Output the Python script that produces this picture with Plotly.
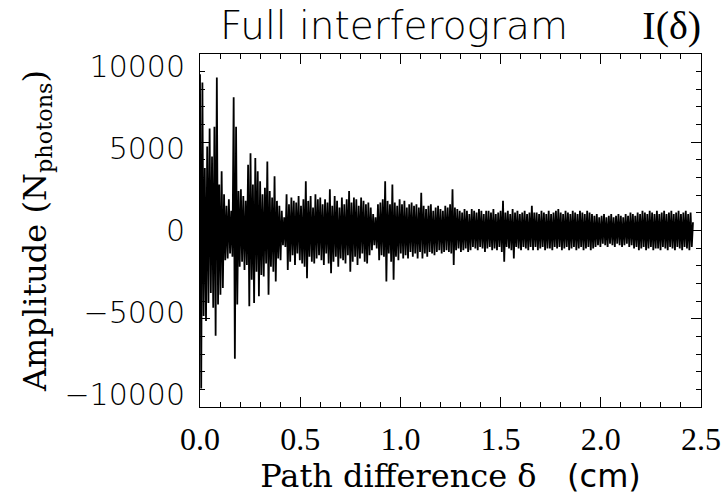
import plotly.graph_objects as go

# Interferogram samples (amplitude in hundreds of photons), one every 0.006 cm of path difference
delta_step_cm = 0.006
amp_hundreds = [
    95, -96, 90, -52, 38, -55, 51, -44, 62, -38,
    45, -47, 63, -64, 93, -45, 28, -39, 36, -35,
    22, -18, 15, -17, 19, -14, 12, -16, 81, -78,
    63, -45, 24, -22, 25, -19, 21, -24, 18, -21,
    40, -46, 47, -30, 28, -44, 44, -25, 36, -40,
    30, -27, 22, -28, 26, -20, 42, -39, 24, -22,
    20, -25, 33, -31, 18, -17, 15, -18, 12, -9,
    8, -10, 22, -24, 16, -19, 20, -15, 18, -21,
    17, -14, 21, -18, 15, -20, 19, -22, 30, -29,
    18, -16, 21, -19, 14, -20, 22, -17, 19, -15,
    20, -18, 16, -21, 19, -14, 17, -20, 25, -26,
    15, -19, 21, -16, 18, -22, 14, -17, 20, -18,
    16, -20, 19, -15, 24, -25, 17, -19, 20, -16,
    19, -21, 15, -17, 20, -14, 18, -19, 16, -20,
    17, -15, 14, -12, 10, -9, 8, -11, 16, -18,
    17, -15, 19, -16, 30, -31, 18, -14, 16, -19,
    28, -30, 17, -16, 15, -18, 19, -14, 16, -17,
    18, -15, 14, -17, 16, -13, 17, -16, 15, -14,
    16, -17, 14, -13, 23, -17, 15, -14, 13, -16,
    15, -13, 16, -14, 12, -15, 14, -13, 15, -12,
    13, -14, 12, -13, 15, -12, 14, -13, 16, -14,
    25, -21, 14, -12, 13, -11, 12, -13, 11, -12,
    13, -11, 12, -13, 10, -12, 13, -10, 12, -11,
    11, -12, 13, -10, 12, -11, 10, -13, 12, -11,
    12, -10, 11, -12, 13, -11, 10, -12, 11, -10,
    12, -13, 18, -19, 11, -10, 12, -11, 10, -12,
    13, -17, 11, -10, 12, -11, 10, -12, 11, -10,
    12, -11, 10, -12, 11, -10, 15, -12, 11, -10,
    11, -12, 10, -11, 12, -10, 11, -12, 10, -11,
    12, -11, 10, -12, 11, -10, 12, -11, 13, -10,
    11, -12, 10, -11, 12, -10, 11, -12, 10, -11,
    12, -10, 11, -12, 10, -11, 12, -10, 11, -12,
    10, -11, 12, -10, 11, -12, 10, -11, 9, -10,
    10, -9, 8, -10, 9, -8, 10, -9, 8, -10,
    9, -8, 10, -9, 8, -10, 9, -8, 10, -9,
    9, -10, 8, -9, 10, -8, 9, -10, 11, -9,
    10, -11, 9, -10, 11, -12, 10, -11, 12, -10,
    11, -12, 10, -11, 12, -10, 11, -12, 10, -11,
    12, -11, 10, -12, 11, -10, 12, -11, 10, -12,
    11, -10, 12, -11, 10, -12, 11, -10, 12, -11,
    10, -12, 11, -10, 12, -11, 10, -12, 11, -10,
    5,
]
amplitude = [v * 100 for v in amp_hundreds]
path_diff = [i * delta_step_cm for i in range(len(amplitude))]

x_tick_vals = [0.0, 0.5, 1.0, 1.5, 2.0, 2.5]
x_tick_text = ["0.0", "0.5", "1.0", "1.5", "2.0", "2.5"]
y_tick_vals = [-10000, -5000, 0, 5000, 10000]
y_tick_text = ["\u221210000", "\u22125000", "0", "5000", "10000"]

SANS = "DejaVu Sans"
SERIF = "Liberation Serif"
WSERIF = "DejaVu Serif"

fig = go.Figure()
fig.add_trace(go.Scatter(
    x=path_diff, y=amplitude, mode="lines",
    line=dict(color="black", width=1.8),
    showlegend=False, hoverinfo="skip",
))
# empty trace so the tick/frame axis is drawn
fig.add_trace(go.Scatter(x=[], y=[], yaxis="y2", showlegend=False, hoverinfo="skip"))

fig.update_layout(
    width=726, height=498,
    paper_bgcolor="white", plot_bgcolor="white",
    margin=dict(l=200, r=25, t=54, b=91),
    title=dict(
        text="Full interferogram\u00a0\u00a0\u00a0\u00a0\u00a0\u00a0"
             "<span style='font-family:Liberation Serif;font-size:40px;font-weight:normal'>I(\u03b4)</span>",
        x=0.52, xanchor="center", y=0.95, yanchor="middle", xref="paper", yref="container",
        font=dict(family=SANS, size=39, color="black", weight=200),
    ),
    xaxis=dict(
        automargin=False,
        range=[0, 2.5], tickvals=x_tick_vals, ticktext=x_tick_text,
        ticks="inside", ticklen=10, tickwidth=1, tickcolor="black",
        minor=dict(dtick=0.1, ticks="inside", ticklen=5, tickcolor="black", tickwidth=1),
        showline=True, linecolor="black", linewidth=1, mirror="ticks",
        showgrid=False, zeroline=False,
        tickfont=dict(family=SERIF, size=32, color="black"),
        ticklabelstandoff=4,
        title=dict(text="Path difference \u03b4\u00a0\u00a0\u00a0<span style='font-family:DejaVu Sans'>(cm)</span>",
                   font=dict(family=WSERIF, size=32, color="black"), standoff=0),
    ),
    yaxis=dict(
        automargin=False,
        range=[-10730, 10730], tickvals=y_tick_vals, ticktext=y_tick_text,
        ticks="", showline=False, showgrid=False, zeroline=False,
        tickfont=dict(family=SANS, size=30, color="black", weight=200),
        ticklabelstandoff=14,
        title=dict(text="Amplitude (N<sub>photons</sub>)",
                   font=dict(family=WSERIF, size=32, color="black"), standoff=8),
    ),
    yaxis2=dict(
        automargin=False,
        overlaying="y", side="left", anchor="x",
        range=[-10000, 10000], tickvals=y_tick_vals,
        showticklabels=False,
        ticks="inside", ticklen=10, tickwidth=1, tickcolor="black",
        minor=dict(dtick=1000, ticks="inside", ticklen=5, tickcolor="black", tickwidth=1),
        showline=True, linecolor="black", linewidth=1, mirror="ticks",
        showgrid=False, zeroline=False,
    ),
)

fig.write_html("out.html", config={"displayModeBar": False},
               post_script="document.body.style.margin='0px';")
